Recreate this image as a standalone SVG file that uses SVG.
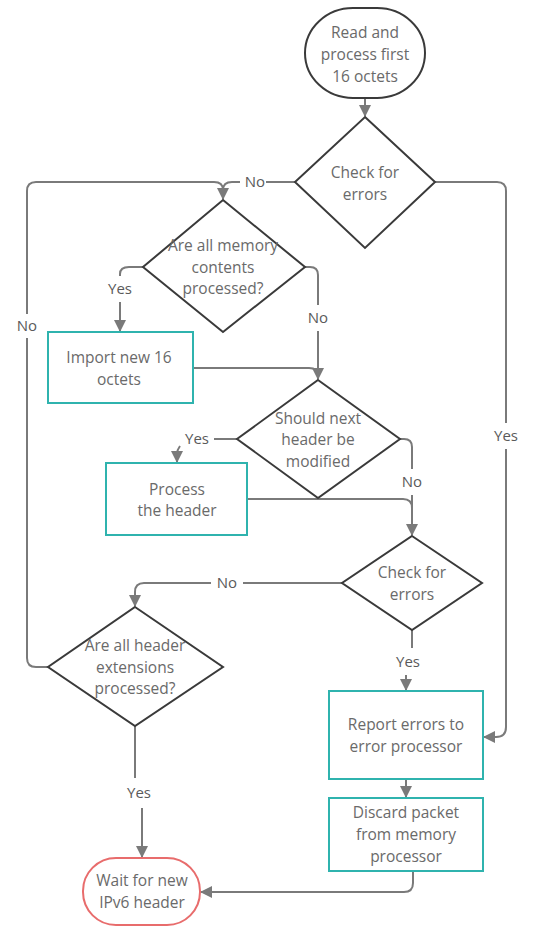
<svg xmlns="http://www.w3.org/2000/svg" width="535" height="927" viewBox="0 0 535 927">
<style>
.bg{fill:#ffffff}
.term{fill:#ffffff;stroke:#3a3a3a;stroke-width:2}
.termend{fill:#ffffff;stroke:#e86c6c;stroke-width:2}
.dec{fill:#ffffff;stroke:#3a3a3a;stroke-width:2}
.proc{fill:#ffffff;stroke:#2fb3ae;stroke-width:2}
.t{font-family:"Open Sans","Noto Sans",sans-serif;font-size:15.5px;fill:#6a6a6a;text-anchor:middle}
.c{fill:none;stroke:#7a7a7a;stroke-width:2}
.lbl{font-family:"Open Sans","Noto Sans",sans-serif;font-size:15px;fill:#5a5a5a;text-anchor:middle}
</style>
<defs>
<marker id="ah" viewBox="0 0 12 12" refX="11" refY="6" markerWidth="12" markerHeight="12" markerUnits="userSpaceOnUse" orient="auto">
<path d="M0,0 L12,6 L0,12 Z" fill="#7a7a7a"/>
</marker>
</defs>
<rect class="bg" x="0" y="0" width="535" height="927"/>

<g id="connectors">
<path class="c" d="M365,98 L365,116" marker-end="url(#ah)"/>
<path class="c" d="M295,182 L266,182"/>
<path class="c" d="M240,182 L232,182 Q223,182 223,190 L223,199" marker-end="url(#ah)"/>
<path class="c" d="M48,667 L36,667 Q27,667 27,658 L27,338"/>
<path class="c" d="M27,314 L27,191 Q27,182 36,182 L214,182 Q223,182 223,190"/>
<path class="c" d="M143,267 L129,267 Q120,267 120,274 L120,276"/>
<path class="c" d="M120,302 L120,331" marker-end="url(#ah)"/>
<path class="c" d="M305,267 L310,267 Q318,267 318,275 L318,305"/>
<path class="c" d="M318,331 L318,379" marker-end="url(#ah)"/>
<path class="c" d="M193,368 L309,368 Q318,368 318,376"/>
<path class="c" d="M237,439 L214,439"/>
<path class="c" d="M180,446 Q177,450 177,454 L177,462" marker-end="url(#ah)"/>
<path class="c" d="M400,439 L404,439 Q412,439 412,447 L412,469"/>
<path class="c" d="M412,495 L412,535" marker-end="url(#ah)"/>
<path class="c" d="M247,499 L403,499 Q412,499 412,508"/>
<path class="c" d="M342,583 L243,583"/>
<path class="c" d="M211,583 L144,583 Q135,583 135,592 L135,606" marker-end="url(#ah)"/>
<path class="c" d="M412,630 L412,648"/>
<path class="c" d="M406,675 L406,690" marker-end="url(#ah)"/>
<path class="c" d="M135,726 L135,778"/>
<path class="c" d="M142,808 L142,857" marker-end="url(#ah)"/>
<path class="c" d="M435,182 L497,182 Q506,182 506,191 L506,423"/>
<path class="c" d="M506,449 L506,727 Q506,737 496,737 L484,737" marker-end="url(#ah)"/>
<path class="c" d="M406,779 L406,797" marker-end="url(#ah)"/>
<path class="c" d="M413,871 L413,883 Q413,892 404,892 L201,892" marker-end="url(#ah)"/>
<text class="lbl" x="255" y="187">No</text>
<text class="lbl" x="27" y="331">No</text>
<text class="lbl" x="120" y="294">Yes</text>
<text class="lbl" x="318" y="323">No</text>
<text class="lbl" x="197" y="444">Yes</text>
<text class="lbl" x="412" y="487">No</text>
<text class="lbl" x="227" y="588">No</text>
<text class="lbl" x="408" y="667">Yes</text>
<text class="lbl" x="139" y="798">Yes</text>
<text class="lbl" x="506" y="441">Yes</text>
</g>

<g id="start">
<rect class="term" x="305" y="8" width="120" height="90" rx="48" ry="45"/>
<text class="t" x="365" y="38">Read and</text>
<text class="t" x="365" y="60">process first</text>
<text class="t" x="365" y="82">16 octets</text>
</g>

<g id="check1">
<polygon class="dec" points="365,117 435,182 365,248 295,182"/>
<text class="t" x="365" y="178">Check for</text>
<text class="t" x="365" y="200">errors</text>
</g>

<g id="memory">
<polygon class="dec" points="223,200 305,267 223,332 143,267"/>
<text class="t" x="223" y="251">Are all memory</text>
<text class="t" x="223" y="273">contents</text>
<text class="t" x="223" y="294">processed?</text>
</g>

<g id="import">
<rect class="proc" x="48" y="332" width="145" height="71"/>
<text class="t" x="119" y="363">Import new 16</text>
<text class="t" x="119" y="385">octets</text>
</g>

<g id="should">
<polygon class="dec" points="318,380 400,439 318,498 237,439"/>
<text class="t" x="318" y="424">Should next</text>
<text class="t" x="318" y="445">header be</text>
<text class="t" x="318" y="467">modified</text>
</g>

<g id="process">
<rect class="proc" x="106" y="463" width="141" height="72"/>
<text class="t" x="177" y="495">Process</text>
<text class="t" x="177" y="516">the header</text>
</g>

<g id="check2">
<polygon class="dec" points="412,536 482,583 412,630 342,583"/>
<text class="t" x="412" y="578">Check for</text>
<text class="t" x="412" y="600">errors</text>
</g>

<g id="headerext">
<polygon class="dec" points="135,607 223,667 135,726 48,667"/>
<text class="t" x="135" y="651">Are all header</text>
<text class="t" x="135" y="673">extensions</text>
<text class="t" x="135" y="694">processed?</text>
</g>

<g id="report">
<rect class="proc" x="329" y="691" width="154" height="88"/>
<text class="t" x="406" y="730">Report errors to</text>
<text class="t" x="406" y="752">error processor</text>
</g>

<g id="discard">
<rect class="proc" x="329" y="798" width="154" height="73"/>
<text class="t" x="406" y="818">Discard packet</text>
<text class="t" x="406" y="840">from memory</text>
<text class="t" x="406" y="862">processor</text>
</g>

<g id="wait">
<rect class="termend" x="83" y="858" width="117" height="67" rx="33" ry="33"/>
<text class="t" x="142" y="886">Wait for new</text>
<text class="t" x="142" y="908">IPv6 header</text>
</g>
</svg>
